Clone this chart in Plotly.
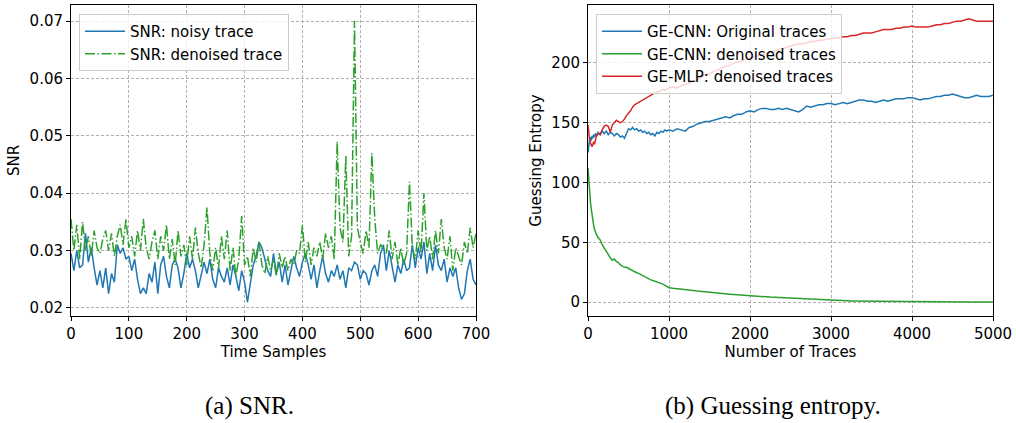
import plotly.graph_objects as go

# ---------------- data: (a) SNR ----------------
snr_t = list(range(0, 701, 5))
snr_noisy = [
    0.0295, 0.0265, 0.0300, 0.0270, 0.0275, 0.0330, 0.0280, 0.0305, 0.0270, 0.0240,
    0.0265, 0.0235, 0.0270, 0.0225, 0.0260, 0.0245, 0.0310, 0.0295, 0.0305, 0.0285,
    0.0290, 0.0265, 0.0285, 0.0250, 0.0225, 0.0235, 0.0225, 0.0260, 0.0245, 0.0280,
    0.0225, 0.0275, 0.0290, 0.0255, 0.0235, 0.0275, 0.0285, 0.0270, 0.0235, 0.0260,
    0.0295, 0.0270, 0.0285, 0.0265, 0.0235, 0.0255, 0.0280, 0.0260, 0.0285, 0.0250,
    0.0235, 0.0270, 0.0255, 0.0245, 0.0270, 0.0240, 0.0275, 0.0255, 0.0230, 0.0265,
    0.0245, 0.0210, 0.0245, 0.0275, 0.0290, 0.0315, 0.0305, 0.0285, 0.0265, 0.0255,
    0.0295, 0.0260, 0.0280, 0.0245, 0.0275, 0.0240, 0.0265, 0.0290, 0.0270, 0.0255,
    0.0280, 0.0295, 0.0275, 0.0250, 0.0275, 0.0235, 0.0265, 0.0290, 0.0260, 0.0245,
    0.0265, 0.0255, 0.0275, 0.0250, 0.0265, 0.0235, 0.0270, 0.0265, 0.0280, 0.0275,
    0.0250, 0.0265, 0.0260, 0.0240, 0.0265, 0.0275, 0.0255, 0.0295, 0.0310, 0.0265,
    0.0300, 0.0275, 0.0245, 0.0275, 0.0260, 0.0285, 0.0265, 0.0270, 0.0310, 0.0270,
    0.0305, 0.0285, 0.0315, 0.0260, 0.0295, 0.0265, 0.0310, 0.0275, 0.0265, 0.0285,
    0.0245, 0.0270, 0.0255, 0.0270, 0.0235, 0.0215, 0.0225, 0.0265, 0.0285, 0.0250,
    0.0240,
]
snr_denoised = [
    0.0355, 0.0300, 0.0345, 0.0285, 0.0350, 0.0300, 0.0325, 0.0290, 0.0335, 0.0305,
    0.0295, 0.0320, 0.0335, 0.0300, 0.0330, 0.0290, 0.0325, 0.0345, 0.0310, 0.0355,
    0.0305, 0.0325, 0.0290, 0.0335, 0.0300, 0.0355, 0.0305, 0.0285, 0.0315, 0.0335,
    0.0285, 0.0325, 0.0300, 0.0345, 0.0285, 0.0320, 0.0275, 0.0335, 0.0290, 0.0310,
    0.0275, 0.0325, 0.0285, 0.0340, 0.0295, 0.0270, 0.0310, 0.0375, 0.0295, 0.0265,
    0.0305, 0.0270, 0.0325, 0.0285, 0.0335, 0.0265, 0.0305, 0.0255, 0.0285, 0.0360,
    0.0275, 0.0290, 0.0255, 0.0305, 0.0280, 0.0315, 0.0275, 0.0260, 0.0290, 0.0265,
    0.0285, 0.0255, 0.0295, 0.0270, 0.0290, 0.0265, 0.0285, 0.0275, 0.0300, 0.0295,
    0.0345, 0.0280, 0.0315, 0.0275, 0.0305, 0.0290, 0.0315, 0.0285, 0.0330, 0.0305,
    0.0325, 0.0285, 0.0490, 0.0340, 0.0315, 0.0465, 0.0290, 0.0325, 0.0700, 0.0340,
    0.0315, 0.0295, 0.0335, 0.0305, 0.0470, 0.0355, 0.0295, 0.0310, 0.0305, 0.0295,
    0.0335, 0.0285, 0.0315, 0.0275, 0.0305, 0.0275, 0.0295, 0.0420, 0.0305, 0.0285,
    0.0335, 0.0295, 0.0400, 0.0300, 0.0325, 0.0285, 0.0335, 0.0295, 0.0355, 0.0305,
    0.0285, 0.0325, 0.0265, 0.0305, 0.0290, 0.0275, 0.0315, 0.0295, 0.0340, 0.0305,
    0.0330,
]

# ---------------- data: (b) Guessing entropy ----------------
ge_x = ([0, 10, 20, 30, 40, 50, 60, 70, 80, 90, 100]
        + list(range(125, 1001, 25))
        + list(range(1050, 5001, 50)))
ge_cnn_original = [
    125, 133, 136, 138, 135, 139, 137, 140, 138, 141, 139,
    142, 140, 143, 141, 143, 140, 142, 141, 139, 141,
    140, 138, 139, 137, 141, 145, 144, 146, 144, 145,
    143, 144, 142, 143, 141, 142, 140, 141, 139, 142,
    141, 143, 142, 144, 143, 144,
    143, 145, 144, 143, 146, 147, 149, 150, 151, 151,
    152, 153, 154, 155, 154, 156, 157, 157, 159, 160,
    159, 161, 162, 162, 161, 161, 162, 161, 162, 161,
    160, 159, 161, 164, 163, 164, 165, 165, 166, 166,
    165, 166, 167, 166, 167, 168, 169, 169, 168, 168,
    167, 168, 169, 168, 169, 170, 170, 170, 171, 171,
    170, 169, 170, 170, 171, 172, 172, 173, 173, 174,
    173, 172, 171, 171, 172, 173, 172, 172, 172, 173,
]
ge_cnn_denoised = [
    112, 100, 92, 84, 78, 72, 68, 64, 61, 59, 57,
    54, 52, 48, 45, 42, 40, 37, 35, 36, 34,
    33, 31, 30, 29, 29, 28, 27, 26, 25, 24.5,
    24, 23, 22, 21, 20, 19.5, 18.5, 18, 17.5, 17,
    16.5, 16, 15, 14, 13, 12,
    11.5, 11, 10.8, 10.5, 10, 9.6, 9.2, 8.8, 8.4, 8,
    7.8, 7.5, 7.2, 7, 6.6, 6.3, 6, 5.7, 5.4, 5.1,
    4.8, 4.6, 4.4, 4.2, 4.1, 4, 3.8, 3.6, 3.4, 3.2,
    3.0, 2.8, 2.6, 2.4, 2.2, 2.0, 1.8, 1.6, 1.5, 1.4,
    1.3, 1.2, 1.1, 1.0, 0.9, 0.85, 0.8, 0.75, 0.7, 0.65,
    0.6, 0.55, 0.5, 0.45, 0.4, 0.38, 0.35, 0.32, 0.3, 0.28,
    0.25, 0.22, 0.2, 0.18, 0.16, 0.14, 0.12, 0.1, 0.09, 0.08,
    0.07, 0.06, 0.05, 0.04, 0.03, 0.02, 0.02, 0.01, 0.01, 0.0,
]
ge_mlp_denoised = [
    148, 140, 136, 133, 131, 130, 132, 134, 132, 136, 138,
    141, 140, 144, 147, 148, 147, 142, 148, 150, 152,
    151, 150, 151, 153, 156, 158, 160, 163, 165, 166,
    167, 168, 169, 170, 171, 172, 173, 174, 175, 176,
    176, 177, 178, 177, 178, 179,
    180, 179, 181, 182, 183, 185, 186, 188, 190, 191,
    193, 194, 196, 197, 198, 200, 201, 202, 203, 204,
    205, 206, 207, 208, 209, 210, 211, 212, 213, 214,
    215, 216, 216, 217, 218, 218, 219, 219, 220, 220,
    221, 221, 222, 222, 223, 223, 224, 225, 225, 225,
    226, 227, 228, 228, 228, 229, 229, 230, 230, 231,
    230, 230, 230, 230, 231, 232, 232, 233, 233, 234,
    235, 235, 236, 237, 236, 235, 235, 235, 235, 235,
]

snr_xticks = [0, 100, 200, 300, 400, 500, 600, 700]
snr_yticks = [0.02, 0.03, 0.04, 0.05, 0.06, 0.07]
ge_xticks = [0, 1000, 2000, 3000, 4000, 5000]
ge_yticks = [0, 50, 100, 150, 200]

BLUE, GREEN, RED = "#1f77b4", "#2ca02c", "#d62728"
FONT = "DejaVu Sans"
FS = 15

fig = go.Figure()
fig.add_trace(go.Scatter(x=snr_t, y=snr_noisy, mode="lines", name="SNR: noisy trace",
                         line=dict(color=BLUE, width=1.5), xaxis="x", yaxis="y", legend="legend"))
fig.add_trace(go.Scatter(x=snr_t, y=snr_denoised, mode="lines", name="SNR: denoised trace",
                         line=dict(color=GREEN, width=1.5, dash="10px,2.5px,1.5px,2.5px"),
                         xaxis="x", yaxis="y", legend="legend"))
fig.add_trace(go.Scatter(x=ge_x, y=ge_cnn_original, mode="lines", name="GE-CNN: Original traces",
                         line=dict(color=BLUE, width=1.5), xaxis="x2", yaxis="y2", legend="legend2"))
fig.add_trace(go.Scatter(x=ge_x, y=ge_cnn_denoised, mode="lines", name="GE-CNN: denoised traces",
                         line=dict(color=GREEN, width=1.5), xaxis="x2", yaxis="y2", legend="legend2"))
fig.add_trace(go.Scatter(x=ge_x, y=ge_mlp_denoised, mode="lines", name="GE-MLP: denoised traces",
                         line=dict(color=RED, width=1.5), xaxis="x2", yaxis="y2", legend="legend2"))

W, H = 1016, 423
ydom = [(H - 316) / H, (H - 5) / H]

common_axis = dict(showline=True, mirror=True, linecolor="black", linewidth=1,
                   ticks="outside", ticklen=4, tickcolor="black", tickwidth=1,
                   showgrid=True, gridcolor="#b0b0b0", gridwidth=0.8, griddash="3px,2px",
                   zeroline=False, automargin=False,
                   tickfont=dict(family=FONT, size=FS, color="black"))

legend_style = dict(bgcolor="rgba(255,255,255,0.8)", bordercolor="#cccccc", borderwidth=1,
                    font=dict(family=FONT, size=FS, color="black"),
                    xanchor="left", yanchor="top", tracegroupgap=0, itemwidth=40)

CAP_FONT = dict(family="Liberation Serif", size=25, color="black")

fig.update_layout(
    width=W, height=H,
    margin=dict(l=0, r=0, t=0, b=0, autoexpand=False),
    paper_bgcolor="white", plot_bgcolor="white",
    font=dict(family=FONT, size=FS, color="black"),
    showlegend=True,
    xaxis=dict(domain=[71 / W, 476 / W], range=[0, 700], tickvals=snr_xticks,
               title=dict(text="Time Samples", standoff=2, font=dict(size=FS)),
               anchor="y", **common_axis),
    yaxis=dict(domain=ydom, range=[0.0186, 0.0728], tickvals=snr_yticks,
               tickformat=".2f",
               title=dict(text="SNR", standoff=6, font=dict(size=FS)),
               anchor="x", **common_axis),
    xaxis2=dict(domain=[588 / W, 993 / W], range=[0, 5000], tickvals=ge_xticks,
                title=dict(text="Number of Traces", standoff=2, font=dict(size=FS)),
                anchor="y2", **common_axis),
    yaxis2=dict(domain=ydom, range=[-11.7, 248.5], tickvals=ge_yticks,
                title=dict(text="Guessing Entropy", standoff=6, font=dict(size=FS)),
                anchor="x2", **common_axis),
    legend=dict(x=79 / W, y=(H - 14) / H, **legend_style),
    legend2=dict(x=596 / W, y=(H - 14) / H, **legend_style),
    annotations=[
        dict(text="(a) SNR.", x=249 / W, y=(H - 406) / H, xref="paper", yref="paper",
             showarrow=False, xanchor="center", yanchor="middle", font=CAP_FONT),
        dict(text="(b) Guessing entropy.", x=773 / W, y=(H - 406) / H, xref="paper", yref="paper",
             showarrow=False, xanchor="center", yanchor="middle", font=CAP_FONT),
    ],
)

fig.write_html("out.html", config={"displayModeBar": False},
               post_script="document.body.style.margin='0px';document.body.style.overflow='hidden';")
